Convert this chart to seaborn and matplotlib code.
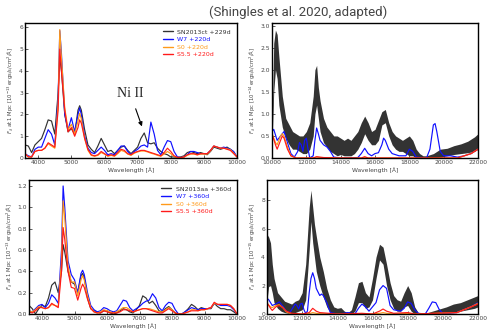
import matplotlib
matplotlib.use("Agg")
import matplotlib.pyplot as plt
import seaborn as sns
from matplotlib.lines import Line2D

sns.set_style("ticks")
plt.rcParams['font.family'] = ['DejaVu Sans']

# ---------------- optical grid (Å) ----------------
OPT_WL = [3600, 3700, 3800, 3900, 4000, 4100, 4200, 4300, 4400, 4500, 4600,
          4650, 4700,
          4800, 4900, 5000, 5100, 5200,
          5250,
          5300, 5400, 5500, 5600, 5700, 5800, 5900, 6000, 6100, 6200,
          6300, 6400, 6500, 6600, 6700, 6800, 6900, 7000, 7100, 7200,
          7300, 7400, 7500, 7600, 7700, 7800, 7900, 8000, 8100, 8200,
          8300, 8400, 8500, 8600, 8700, 8800, 8900, 9000, 9100, 9200,
          9300, 9400, 9500, 9600, 9700, 9800, 9900, 10000]

# top-left: +220d (units 1e-13)
TL_OBS = [0.6, 0.55, 0.25, 0.6, 0.75, 0.9, 1.3, 1.75, 1.7, 1.1, 3.0,
          4.6, 4.0,
          2.0, 1.2, 1.35, 1.1, 2.2,
          2.4,
          2.2, 1.3, 0.6, 0.4, 0.25, 0.55, 0.9, 0.6, 0.3, 0.35,
          0.2, 0.35, 0.5, 0.55, 0.35, 0.2, 0.35, 0.5, 0.9, 1.15,
          0.7, 0.65, 0.7, 0.45, 0.3, 0.2, 0.15, 0.05, 0.05, 0.03,
          0.05, 0.1, 0.25, 0.3, 0.25, 0.2, 0.25, 0.2, 0.15, 0.3,
          0.5, 0.45, 0.4, 0.45, 0.5, 0.4, 0.25, 0.05]
TL_W7 = [0.2, 0.1, 0.05, 0.4, 0.5, 0.5, 0.9, 1.3, 1.1, 0.6, 2.8,
         5.85, 4.8,
         2.0, 1.3, 1.85, 1.2, 2.0,
         2.3,
         2.0, 1.0, 0.45, 0.25, 0.2, 0.35, 0.5, 0.35, 0.15, 0.2,
         0.15, 0.35, 0.55, 0.55, 0.3, 0.15, 0.3, 0.4, 0.55, 0.6,
         0.5, 1.65, 1.1, 0.35, 0.15, 0.5, 0.8, 0.75, 0.3, 0.05,
         0.02, 0.05, 0.15, 0.3, 0.3, 0.25, 0.2, 0.2, 0.2, 0.35,
         0.55, 0.5, 0.45, 0.5, 0.45, 0.4, 0.3, 0.05]
TL_S0 = [0.2, 0.05, 0.05, 0.3, 0.35, 0.35, 0.45, 0.65, 0.55, 0.45, 2.5,
         5.9, 4.6,
         2.3, 1.3, 1.55, 1.1, 1.7,
         2.05,
         1.8, 0.9, 0.35, 0.12, 0.08, 0.12, 0.25, 0.18, 0.08, 0.12,
         0.08, 0.2, 0.35, 0.3, 0.18, 0.12, 0.22, 0.28, 0.32, 0.32,
         0.28, 0.22, 0.18, 0.12, 0.08, 0.18, 0.3, 0.2, 0.08, 0.02,
         0.02, 0.04, 0.12, 0.18, 0.18, 0.14, 0.18, 0.18, 0.18, 0.33,
         0.55, 0.5, 0.45, 0.45, 0.42, 0.38, 0.22, 0.05]
TL_S55 = [0.2, 0.05, 0.05, 0.3, 0.35, 0.35, 0.45, 0.7, 0.6, 0.5, 2.2,
          5.0, 4.0,
          2.2, 1.2, 1.4, 1.0, 1.4,
          1.75,
          1.6, 0.9, 0.4, 0.15, 0.1, 0.15, 0.3, 0.2, 0.1, 0.15,
          0.1, 0.25, 0.4, 0.35, 0.2, 0.15, 0.25, 0.3, 0.35, 0.35,
          0.3, 0.25, 0.2, 0.15, 0.1, 0.25, 0.45, 0.3, 0.1, 0.03,
          0.02, 0.05, 0.15, 0.2, 0.2, 0.15, 0.2, 0.2, 0.2, 0.35,
          0.55, 0.5, 0.45, 0.45, 0.4, 0.35, 0.2, 0.05]

# bottom-left: +360d (units 1e-13)
BL_OBS = [0.08, 0.05, 0.0, 0.05, 0.08, 0.07, 0.15, 0.27, 0.3, 0.2, 0.4,
          0.65, 0.58,
          0.4, 0.3, 0.28, 0.2, 0.36,
          0.38,
          0.34, 0.15, 0.05, 0.03, 0.02, 0.01, 0.03, 0.03, 0.01, 0.0,
          0.01, 0.03, 0.05, 0.04, 0.02, 0.01, 0.04, 0.08, 0.17, 0.15,
          0.1, 0.12, 0.08, 0.03, 0.02, 0.05, 0.07, 0.04, 0.01, 0.0,
          0.0, 0.02, 0.05, 0.09, 0.07, 0.04, 0.06, 0.05, 0.05, 0.05,
          0.1, 0.07, 0.05, 0.05, 0.04, 0.04, 0.02, 0.0]
BL_W7 = [0.03, 0.02, 0.05, 0.08, 0.09, 0.06, 0.1, 0.18, 0.15, 0.1, 0.6,
         1.2, 1.0,
         0.5, 0.37, 0.32, 0.2, 0.38,
         0.41,
         0.37, 0.2, 0.08, 0.04, 0.02, 0.03, 0.06, 0.05, 0.03, 0.02,
         0.03, 0.08, 0.13, 0.12, 0.06, 0.03, 0.05, 0.07, 0.1, 0.12,
         0.13, 0.19, 0.15, 0.06, 0.03, 0.08, 0.11, 0.1, 0.04, 0.0,
         0.0, 0.02, 0.04, 0.06, 0.05, 0.04, 0.05, 0.05, 0.05, 0.06,
         0.1, 0.09, 0.08, 0.08, 0.08, 0.07, 0.04, 0.0]
BL_S0 = [0.03, 0.02, 0.04, 0.07, 0.06, 0.05, 0.06, 0.09, 0.08, 0.07, 0.5,
         1.06, 0.9,
         0.45, 0.3, 0.3, 0.17, 0.32,
         0.36,
         0.32, 0.17, 0.06, 0.02, 0.01, 0.02, 0.04, 0.03, 0.02, 0.01,
         0.02, 0.04, 0.06, 0.06, 0.04, 0.02, 0.03, 0.04, 0.05, 0.05,
         0.05, 0.04, 0.03, 0.02, 0.02, 0.04, 0.06, 0.04, 0.01, 0.0,
         0.0, 0.01, 0.02, 0.04, 0.04, 0.03, 0.04, 0.04, 0.05, 0.06,
         0.1, 0.09, 0.09, 0.09, 0.09, 0.08, 0.05, 0.0]
BL_S55 = [0.02, 0.01, 0.03, 0.06, 0.06, 0.05, 0.06, 0.1, 0.08, 0.06, 0.4,
          0.81, 0.7,
          0.4, 0.25, 0.24, 0.13, 0.24,
          0.28,
          0.25, 0.14, 0.05, 0.02, 0.01, 0.01, 0.03, 0.02, 0.01, 0.01,
          0.01, 0.02, 0.04, 0.04, 0.03, 0.02, 0.03, 0.04, 0.05, 0.05,
          0.04, 0.03, 0.02, 0.01, 0.01, 0.03, 0.05, 0.03, 0.01, 0.0,
          0.0, 0.01, 0.02, 0.03, 0.03, 0.03, 0.04, 0.04, 0.05, 0.06,
          0.11, 0.09, 0.09, 0.09, 0.09, 0.08, 0.05, 0.0]

# ---------------- NIR ----------------
NIR_OBS_WL = [10000, 10100, 10200, 10300, 10400,
              10600, 10800, 11000, 11200, 11400, 11600, 11800, 12000, 12200, 12400,
              12500, 12600, 12700,
              12800, 13000, 13200, 13400, 13600, 13800, 14000, 14200, 14400, 14600,
              14800, 15000, 15200, 15400, 15600, 15800, 16000, 16200, 16400, 16600,
              16800, 17000, 17200, 17400, 17600, 17800, 18000, 18200, 18400, 18600,
              18800, 19000,
              19400, 19800, 20200, 20600, 21000, 21400, 21800, 22000]

# top-right: observed band (units 1e-14)
TR_OBS_LO = [0.3, 1.5, 2.0, 1.8, 1.2,
             0.7, 0.45, 0.3, 0.2, 0.2, 0.15, 0.1, 0.1, 0.2, 0.5,
             1.0, 1.2, 0.9,
             0.6, 0.35, 0.25, 0.15, 0.1, 0.05, 0.08, 0.05, 0.05, 0.05,
             0.1, 0.2, 0.35, 0.55, 0.4, 0.3, 0.3, 0.4, 0.75, 0.8,
             0.5, 0.3, 0.2, 0.15, 0.15, 0.1, 0.05, 0.05, 0.0, 0.0,
             0.0, 0.0,
             0.0, 0.02, 0.05, 0.08, 0.1, 0.12, 0.15, 0.2]
TR_OBS_HI = [0.6, 2.6, 2.9, 2.8, 2.3,
             1.4, 0.9, 0.75, 0.6, 0.55, 0.5, 0.5, 0.6, 0.8, 1.4,
             2.0, 2.1, 1.6,
             1.3, 0.9, 0.7, 0.6, 0.5, 0.5, 0.45, 0.4, 0.45, 0.4,
             0.5, 0.6, 0.8, 0.95, 0.8, 0.6, 0.65, 0.85, 1.05, 1.1,
             0.8, 0.6, 0.5, 0.45, 0.4, 0.45, 0.5, 0.4, 0.2, 0.1,
             0.05, 0.05,
             0.1, 0.2, 0.22, 0.28, 0.32, 0.38, 0.48, 0.55]
TR_W7_WL = [10000, 10100, 10300, 10500, 10700, 10900, 11100, 11300, 11500, 11600,
            11700, 11800, 11900, 12000, 12100, 12200, 12400, 12500, 12600, 12700,
            12800, 13000, 13200, 13400, 13600, 14000, 15000, 15200, 15400, 15600,
            15800, 16000, 16200, 16400, 16500, 16600, 16800, 17000, 17400, 17800,
            18000, 18200, 18400, 19000, 19200, 19400, 19500, 19600, 19800, 20000,
            20400, 20800, 21200, 21600, 22000]
TR_W7 = [0.6, 0.65, 0.4, 0.5, 0.6, 0.35, 0.1, 0.02, 0.15, 0.35,
         0.3, 0.15, 0.4, 0.45, 0.2, 0.0, 0.05, 0.4, 0.68, 0.55,
         0.4, 0.3, 0.25, 0.15, 0.02, 0.0, 0.01, 0.1, 0.22, 0.1,
         0.05, 0.1, 0.12, 0.3, 0.45, 0.4, 0.2, 0.1, 0.05, 0.05,
         0.2, 0.15, 0.02, 0.0, 0.2, 0.75, 0.78, 0.6, 0.15, 0.05,
         0.05, 0.02, 0.05, 0.1, 0.2]
TR_MOD_WL = [10000, 10200, 10300, 10500, 10600, 10700, 10900, 11100, 11400, 12400,
             12600, 12800, 13000, 14000, 15200, 15400, 15600, 16000, 20800, 21200,
             21600, 22000]
TR_S0 = [0.55, 0.35, 0.3, 0.5, 0.55, 0.5, 0.25, 0.05, 0.0, 0.0,
         0.02, 0.01, 0.01, 0.0, 0.0, 0.01, 0.0, 0.0, 0.0, 0.05,
         0.1, 0.2]
TR_S55 = [0.55, 0.3, 0.2, 0.4, 0.5, 0.45, 0.2, 0.05, 0.0, 0.0,
          0.03, 0.02, 0.01, 0.0, 0.0, 0.03, 0.0, 0.0, 0.0, 0.05,
          0.1, 0.2]

# bottom-right: observed band (units 1e-15)
BR_OBS_LO = [1.0, 2.0, 2.0, 1.5, 0.8,
             0.4, 0.2, 0.1, 0.05, 0.05, 0.1, 0.2, 0.3, 1.0, 4.5,
             6.5, 5.0, 4.0,
             3.0, 2.0, 1.2, 0.5, 0.1, 0.05, 0.0, 0.05, 0.0, 0.0,
             0.0, 0.2, 0.8, 0.8, 0.4, 0.5, 1.0, 2.5, 3.8, 3.5,
             2.0, 1.0, 0.4, 0.2, 0.2, 0.5, 0.6, 0.2, 0.0, 0.0,
             0.0, 0.0,
             0.0, 0.05, 0.1, 0.1, 0.2, 0.3, 0.4, 0.5]
BR_OBS_HI = [5.6, 5.4, 5.0, 3.5, 2.5,
             1.5, 1.2, 0.9, 0.8, 0.7, 0.9, 1.0, 1.5, 3.5, 7.5,
             8.7, 7.5, 6.3,
             5.5, 4.0, 3.0, 1.8, 1.0, 0.5, 0.4, 0.45, 0.2, 0.1,
             0.3, 1.2, 2.2, 2.3, 1.5, 1.2, 2.5, 4.0, 4.9, 4.7,
             3.5, 2.2, 1.3, 1.0, 0.9, 1.5, 2.0, 1.5, 0.5, 0.1,
             0.05, 0.05,
             0.2, 0.35, 0.5, 0.7, 0.8, 1.0, 1.2, 1.3]
BR_W7_WL = [10000, 10100, 10300, 10500, 10700, 10900, 11100, 11300, 11500, 11600,
            11700, 11800, 11900, 12000, 12100, 12200, 12300, 12400, 12500, 12600, 12700,
            12800, 13000, 13100, 13200, 13400, 13600, 14000, 14400, 14600, 15000,
            15200, 15400, 15600, 15800, 16000, 16200, 16400, 16600, 16800, 17000,
            17200, 17600, 17800, 18000, 18200, 18400, 18600, 19000, 19200, 19400,
            19600, 19800, 20000, 20400, 20800, 21200, 21600, 22000]
BR_W7 = [1.1, 1.0, 0.6, 0.7, 0.85, 0.55, 0.2, 0.1, 0.5, 0.7,
         0.6, 0.35, 0.7, 0.75, 0.3, 0.05, 0.2, 1.5, 2.5, 2.9, 2.5,
         1.8, 1.3, 1.4, 1.3, 0.8, 0.1, 0.0, 0.05, 0.1, 0.0,
         0.4, 0.7, 0.5, 0.2, 0.5, 0.8, 1.7, 2.0, 1.8, 0.6,
         0.3, 0.2, 0.4, 0.85, 0.75, 0.3, 0.05, 0.0, 0.4, 0.85,
         0.8, 0.3, 0.05, 0.05, 0.1, 0.3, 0.5, 0.8]
BR_MOD_WL = [10000, 10200, 10300, 10500, 10700, 10900, 11100, 11400, 12000, 12400,
             12600, 12800, 13000, 14000, 15400, 16000, 16400, 16600, 16800, 17200,
             18000, 18400, 20800, 21200, 21600, 22000]
BR_S0 = [0.75, 0.5, 0.45, 0.6, 0.65, 0.45, 0.15, 0.0, 0.0, 0.02,
         0.1, 0.05, 0.02, 0.0, 0.02, 0.0, 0.05, 0.1, 0.05, 0.0,
         0.05, 0.0, 0.1, 0.3, 0.5, 0.75]
BR_S55 = [0.8, 0.4, 0.25, 0.5, 0.6, 0.45, 0.2, 0.05, 0.0, 0.1,
          0.4, 0.2, 0.1, 0.0, 0.05, 0.0, 0.2, 0.35, 0.2, 0.05,
          0.1, 0.0, 0.1, 0.3, 0.5, 0.7]

LABELS_TOP = ["SN2013ct +229d", "W7 +220d", "S0 +220d", "S5.5 +220d"]
LABELS_BOT = ["SN2013aa +360d", "W7 +360d", "S0 +360d", "S5.5 +360d"]
OPT_TICKS = [4000, 5000, 6000, 7000, 8000, 9000, 10000]
NIR_TICKS = [10000, 12000, 14000, 16000, 18000, 20000, 22000]

C_OBS = "#333333"
C_W7 = "#1010ff"
C_S0 = "#ff9a1a"
C_S55 = "#ff1a1a"
TXT = "#444444"
LW = 0.85

W, H = 487, 333
fig = plt.figure(figsize=(W / 100, H / 100), dpi=100)


def box(l, r, t, b):
    return [l / W, (H - b) / H, (r - l) / W, (b - t) / H]


ax_tl = fig.add_axes(box(25, 237, 23, 158))
ax_tr = fig.add_axes(box(272, 478, 23, 158))
ax_bl = fig.add_axes(box(29, 237, 180, 314))
ax_br = fig.add_axes(box(267, 478, 180, 314))


def style(ax, xlim, ylim, xticks, yticks, yfmt, exp):
    ax.set_xlim(*xlim)
    ax.set_ylim(*ylim)
    ax.set_xticks(xticks)
    ax.set_yticks(yticks)
    ax.set_yticklabels([yfmt.format(v) for v in yticks])
    ax.tick_params(direction="in", length=2, width=0.6, labelsize=4.3,
                   colors=TXT, pad=1.5)
    for s in ax.spines.values():
        s.set_linewidth(1.0)
        s.set_color("black")
    ax.set_xlabel("Wavelength [Å]", fontsize=4.3, color=TXT, labelpad=1.5)
    ax.set_ylabel(r"$F_\lambda$ at 1 Mpc [10$^{-%d}$ ergs/s/cm$^2$/Å]" % exp,
                  fontsize=3.8, color=TXT, labelpad=2)


def optical(ax, obs, w7, s0, s55, labels):
    sns.lineplot(x=OPT_WL, y=obs, ax=ax, color=C_OBS, lw=LW)
    sns.lineplot(x=OPT_WL, y=w7, ax=ax, color=C_W7, lw=LW)
    sns.lineplot(x=OPT_WL, y=s0, ax=ax, color=C_S0, lw=LW)
    sns.lineplot(x=OPT_WL, y=s55, ax=ax, color=C_S55, lw=LW)
    handles = [Line2D([], [], color=c, lw=1.0) for c in (C_OBS, C_W7, C_S0, C_S55)]
    leg = ax.legend(handles, labels, loc="upper right", frameon=False,
                    fontsize=4.5, handlelength=1.6, handletextpad=0.7,
                    labelspacing=0.35, borderaxespad=0.6)
    for t, c in zip(leg.get_texts(), ("#333333", C_W7, C_S0, C_S55)):
        t.set_color(c)


def nir(ax, lo, hi, w7wl, w7, modwl, s0, s55):
    ax.fill_between(NIR_OBS_WL, lo, hi, color=C_OBS, lw=0)
    sns.lineplot(x=w7wl, y=w7, ax=ax, color=C_W7, lw=LW)
    sns.lineplot(x=modwl, y=s0, ax=ax, color=C_S0, lw=LW)
    sns.lineplot(x=modwl, y=s55, ax=ax, color=C_S55, lw=LW)


optical(ax_tl, TL_OBS, TL_W7, TL_S0, TL_S55, LABELS_TOP)
style(ax_tl, (3600, 10000), (0, 6.2), OPT_TICKS, [0, 1, 2, 3, 4, 5, 6], "{:.0f}", 13)
ax_tl.annotate("Ni II", xy=(7130, 1.45), xytext=(6780, 2.95),
               fontsize=10, family="Liberation Serif", ha="center", va="center",
               arrowprops=dict(arrowstyle="-|>", color="black", lw=0.8,
                               mutation_scale=6, shrinkA=4, shrinkB=0))

nir(ax_tr, TR_OBS_LO, TR_OBS_HI, TR_W7_WL, TR_W7, TR_MOD_WL, TR_S0, TR_S55)
style(ax_tr, (10000, 22000), (0, 3.06), NIR_TICKS,
      [0, 0.5, 1.0, 1.5, 2.0, 2.5, 3.0], "{:.1f}", 14)

optical(ax_bl, BL_OBS, BL_W7, BL_S0, BL_S55, LABELS_BOT)
style(ax_bl, (3600, 10000), (0, 1.256), OPT_TICKS,
      [0, 0.2, 0.4, 0.6, 0.8, 1.0, 1.2], "{:.1f}", 13)

nir(ax_br, BR_OBS_LO, BR_OBS_HI, BR_W7_WL, BR_W7, BR_MOD_WL, BR_S0, BR_S55)
style(ax_br, (10000, 22000), (0, 9.42), NIR_TICKS, [0, 2, 4, 6, 8], "{:.0f}", 15)

fig.text(298 / W, 1 - 12 / H, "(Shingles et al. 2020, adapted)",
         ha="center", va="center", fontsize=9.5, color="#444444",
         family="Roboto", weight="normal")

fig.savefig("out.png", dpi=100)
